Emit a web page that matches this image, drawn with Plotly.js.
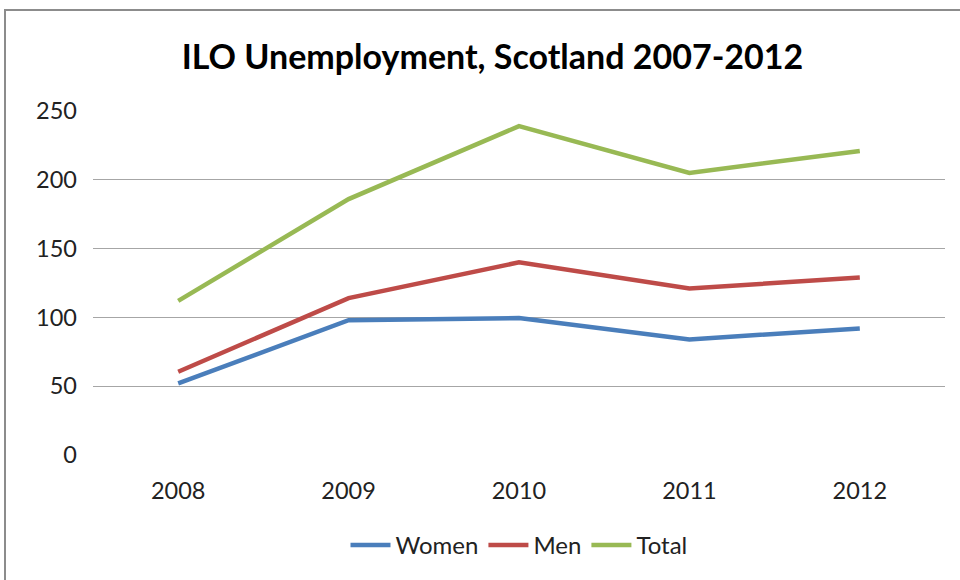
<!DOCTYPE html>
<html>
<head>
<meta charset="utf-8">
<script src="https://cdn.plot.ly/plotly-3.0.1.min.js"></script>
<style>
html,body{margin:0;padding:0;background:#fff;}
#wrap{position:relative;width:960px;height:580px;overflow:hidden;}
#chart{position:absolute;left:0;top:0;width:960px;height:580px;}
#frame{position:absolute;left:4px;top:9px;width:1000px;height:600px;border:2px solid #8c8c8c;box-sizing:border-box;pointer-events:none;}
</style>
</head>
<body>
<div id="wrap"><div id="chart"></div><div id="frame"></div></div>
<script>
const years = ['2008', '2009', '2010', '2011', '2012'];
const women = [52, 98, 99.5, 84, 92];
const men = [60.5, 114, 140, 121, 129];
const total = [112, 186, 239, 205, 221];
const yTicks = [0, 50, 100, 150, 200, 250];

const font = 'Lato, "Open Sans", Arial, sans-serif';
function tr(name, y, color) {
  return {x: years, y: y, name: name, type: 'scatter', mode: 'lines',
    line: {color: color, width: 4.5}};
}
const data = [
  tr('Women', women, '#4a7ebb'),
  tr('Men', men, '#be4b48'),
  tr('Total', total, '#98b954')
];
const layout = {
  width: 960, height: 580,
  margin: {l: 93, r: 15, t: 111, b: 123, pad: 0},
  paper_bgcolor: 'rgba(0,0,0,0)', plot_bgcolor: '#fff',
  font: {family: font, color: '#222', size: 23},
  title: {text: 'ILO Unemployment, Scotland 2007-2012', font: {family: font, size: 34, color: '#000', weight: 'bold'},
    x: 0.513, xanchor: 'center', y: 0.902, yanchor: 'middle'},
  xaxis: {type: 'category', range: [-0.5, 4.5], showgrid: false, showline: false, zeroline: false,
    ticks: '', ticklabelstandoff: 19, tickfont: {size: 23.5, color: '#222'}, fixedrange: true},
  yaxis: {range: [0, 250], tickvals: yTicks, showgrid: true, gridcolor: '#a6a6a6', gridwidth: 1.3,
    zeroline: false, showline: false, ticks: '', ticklabelstandoff: 15, tickfont: {size: 23.5, color: '#222'}, fixedrange: true},
  showlegend: true,
  legend: {orientation: 'h', x: 0.5, xanchor: 'center', y: -0.263, yanchor: 'middle', font: {size: 24, color: '#222'},
    itemwidth: 40, tracegroupgap: 0},
  hovermode: false
};
Plotly.newPlot('chart', data, layout, {staticPlot: true});
</script>
</body>
</html>
